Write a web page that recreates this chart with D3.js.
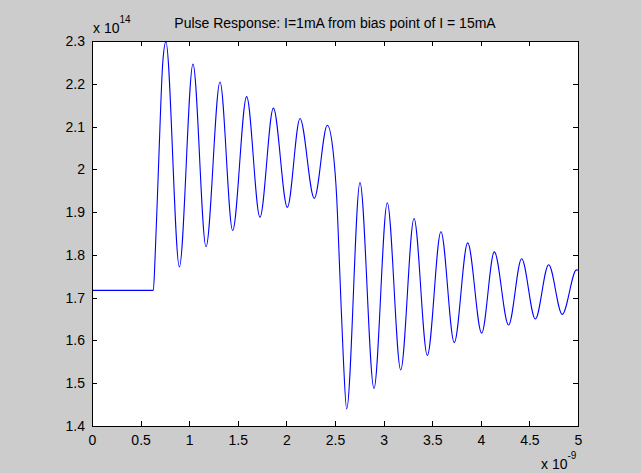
<!DOCTYPE html>
<html>
<head>
<meta charset="utf-8">
<script src="https://cdn.jsdelivr.net/npm/d3@7"></script>
<style>
  body { margin: 0; background: #cccccc; }
  svg { display: block; }
  .axis text { font-family: "Liberation Sans", Arial, sans-serif; font-size: 14px; fill: #000; }
  .axis path, .axis line { stroke: #000; shape-rendering: crispEdges; }
  .lbl { font-family: "Liberation Sans", Arial, sans-serif; font-size: 14px; fill: #000; }
</style>
</head>
<body>
<div id="chart"></div>
<script>
// time in ns (axis shows x 10^-9), value in units of 10^14
var timeNs = [0, 0.631, 0.648, 0.683, 0.728, 0.760,
  0.899, 1.039, 1.173, 1.317, 1.447, 1.591, 1.728, 1.866, 2.010, 2.140, 2.287, 2.421,
  2.483, 2.517, 2.551, 2.585, 2.620,
  2.757, 2.901, 3.038, 3.176, 3.313, 3.450, 3.590, 3.727, 3.865, 4.009,
  4.139, 4.286, 4.420, 4.561, 4.698, 4.838, 4.985, 5.0];
var photons = [1.717, 1.717, 1.788, 1.998, 2.249, 2.298,
  1.772, 2.246, 1.819, 2.204, 1.857, 2.170, 1.888, 2.143, 1.911, 2.119, 1.932, 2.103,
  2.037, 1.936, 1.749, 1.562, 1.440,
  1.969, 1.488, 1.922, 1.531, 1.885, 1.565, 1.854, 1.595, 1.828, 1.617,
  1.807, 1.636, 1.791, 1.650, 1.777, 1.661, 1.765, 1.764];
var xTicks = [0, 0.5, 1, 1.5, 2, 2.5, 3, 3.5, 4, 4.5, 5];
var yTicks = [1.4, 1.5, 1.6, 1.7, 1.8, 1.9, 2, 2.1, 2.2, 2.3];
var title = "Pulse Response: I=1mA from bias point of I = 15mA";

var W = 641, H = 473;
var margin = {top: 41, right: 63, bottom: 47, left: 92};
var width = W - margin.left - margin.right,
    height = H - margin.top - margin.bottom;

var svg = d3.select("#chart").append("svg")
    .attr("width", W).attr("height", H);

var g = svg.append("g")
    .attr("transform", "translate(" + margin.left + "," + margin.top + ")");

var x = d3.scaleLinear().domain([0, 5]).range([0, width]);
var y = d3.scaleLinear().domain([1.4, 2.3]).range([height, 0]);

g.append("rect")
    .attr("width", width).attr("height", height)
    .attr("fill", "#fff");

var data = timeNs.map(function(t, i) { return {t: t, v: photons[i]}; });

var line = d3.line()
    .x(function(d) { return x(d.t); })
    .y(function(d) { return y(d.v); })
    .curve(d3.curveMonotoneX);

g.append("path")
    .datum(data)
    .attr("fill", "none")
    .attr("stroke", "#0000ff")
    .attr("stroke-width", 1.1)
    .attr("d", line);

var fmt = function(d) { return String(d); };

g.append("g").attr("class", "axis")
    .attr("transform", "translate(0," + height + ")")
    .call(d3.axisBottom(x).tickValues(xTicks).tickFormat(fmt).tickSize(-5).tickPadding(9));

g.append("g").attr("class", "axis")
    .call(d3.axisTop(x).tickValues(xTicks).tickFormat("").tickSize(-5));

g.append("g").attr("class", "axis")
    .call(d3.axisLeft(y).tickValues(yTicks).tickFormat(fmt).tickSize(-5).tickPadding(7));

g.append("g").attr("class", "axis")
    .attr("transform", "translate(" + width + ",0)")
    .call(d3.axisRight(y).tickValues(yTicks).tickFormat("").tickSize(-5));

g.selectAll(".axis .domain").attr("fill", "none");

// title
svg.append("text").attr("class", "lbl")
    .attr("x", margin.left + width / 2).attr("y", 28)
    .attr("text-anchor", "middle")
    .attr("font-size", 15.2)
    .text(title);

// exponent labels
var ey = svg.append("text").attr("class", "lbl")
    .attr("x", 93).attr("y", 33);
ey.append("tspan").text("x 10");
ey.append("tspan").attr("dy", -10).attr("font-size", 10).text("14");

var ex = svg.append("text").attr("class", "lbl")
    .attr("x", 541).attr("y", 469);
ex.append("tspan").text("x 10");
ex.append("tspan").attr("dy", -10).attr("font-size", 10).text("-9");
</script>
</body>
</html>
